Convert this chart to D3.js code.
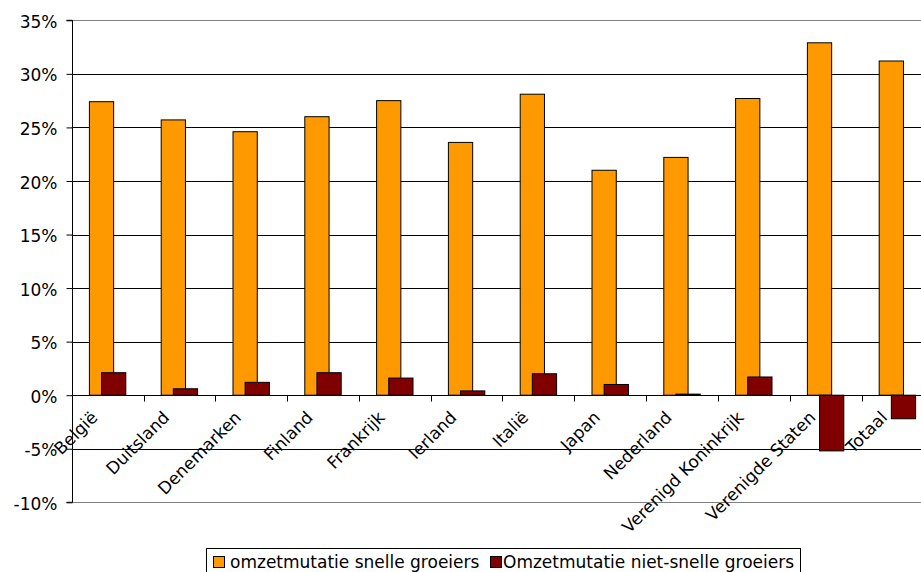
<!DOCTYPE html>
<html>
<head>
<meta charset="utf-8">
<script src="https://cdn.jsdelivr.net/npm/d3@7"></script>
<style>
  html, body { margin: 0; padding: 0; background: #fff; }
  svg { display: block; font-family: "DejaVu Sans", Verdana, sans-serif; }
</style>
</head>
<body>
<svg id="chart" width="921" height="572"></svg>
<script>
// Omzetmutatie per land: snelle groeiers versus niet-snelle groeiers
const categories = ["België", "Duitsland", "Denemarken", "Finland", "Frankrijk", "Ierland",
  "Italië", "Japan", "Nederland", "Verenigd Koninkrijk", "Verenigde Staten", "Totaal"];
const snelle = [0.274, 0.257, 0.246, 0.260, 0.275, 0.236, 0.281, 0.210, 0.222, 0.277, 0.329, 0.312];
const nietSnelle = [0.021, 0.006, 0.012, 0.021, 0.016, 0.004, 0.020, 0.010, 0.001, 0.017, -0.052, -0.022];
const seriesNames = ["omzetmutatie snelle groeiers", "Omzetmutatie niet-snelle groeiers"];
const seriesColors = ["#FF9900", "#800000"];
const yTicks = [-0.10, -0.05, 0, 0.05, 0.10, 0.15, 0.20, 0.25, 0.30, 0.35];

const FONT = "17px";
const svg = d3.select("#chart");
const plot = { left: 71.7, right: 933.3, top: 20.3, bottom: 502.3 };

const x = d3.scaleBand().domain(categories).range([plot.left, plot.right]).padding(0);
const y = d3.scaleLinear().domain([-0.10, 0.35]).range([plot.bottom, plot.top]);

const bw = x.bandwidth();
const barW = bw * 0.338;            // each bar
const groupW = barW * 1.5;          // bars overlap by half
const off = (bw - groupW) / 2;
const fmt = d => Math.round(d * 100) + "%";

// Gridlines (top and bottom edges of the plot area in grey)
svg.append("g").selectAll("line")
  .data(yTicks)
  .join("line")
  .attr("x1", plot.left).attr("x2", plot.right)
  .attr("y1", d => Math.round(y(d)) + 0.5).attr("y2", d => Math.round(y(d)) + 0.5)
  .attr("stroke", d => (d === 0.35 || d === -0.10) ? "#808080" : "#000")
  .attr("stroke-width", 1);

// Bars: first series, then the second drawn over it
const rows = categories.map((c, i) => ({ c, a: snelle[i], b: nietSnelle[i] }));
const bars = svg.append("g");
bars.selectAll("rect.a")
  .data(rows)
  .join("rect")
  .attr("class", "a")
  .attr("x", d => x(d.c) + off)
  .attr("width", barW)
  .attr("y", d => y(Math.max(0, d.a)))
  .attr("height", d => Math.abs(y(d.a) - y(0)))
  .attr("fill", seriesColors[0])
  .attr("stroke", "#000").attr("stroke-width", 1);
bars.selectAll("rect.b")
  .data(rows)
  .join("rect")
  .attr("class", "b")
  .attr("x", d => x(d.c) + off + barW / 2)
  .attr("width", barW)
  .attr("y", d => y(Math.max(0, d.b)))
  .attr("height", d => Math.abs(y(d.b) - y(0)))
  .attr("fill", seriesColors[1])
  .attr("stroke", "#000").attr("stroke-width", 1);

// Y axis
const yAxis = d3.axisLeft(y).tickValues(yTicks).tickFormat(fmt).tickSize(6).tickPadding(9);
const gy = svg.append("g").attr("transform", `translate(${Math.round(plot.left) + 0.5},0)`).call(yAxis);
gy.select(".domain").attr("stroke", "#000").attr("d", `M-6,${y(0.35)}H0V${y(-0.10)}H-6`);
gy.selectAll(".tick line").attr("stroke", "#000");
gy.selectAll(".tick text").attr("fill", "#000").attr("dy", "0.42em").style("font-size", FONT)
  .style("font-family", "'DejaVu Sans', Verdana, sans-serif");

// X axis at zero with ticks on category boundaries
const y0 = Math.round(y(0)) + 0.5;
const gx = svg.append("g");
gx.append("line").attr("x1", plot.left).attr("x2", plot.right)
  .attr("y1", y0).attr("y2", y0).attr("stroke", "#000");
gx.selectAll("line.tk")
  .data(categories.slice(1))
  .join("line")
  .attr("class", "tk")
  .attr("x1", d => Math.round(x(d)) + 0.5).attr("x2", d => Math.round(x(d)) + 0.5)
  .attr("y1", y0).attr("y2", y0 + 6)
  .attr("stroke", "#000");
gx.selectAll("text")
  .data(categories)
  .join("text")
  .attr("transform", d => `translate(${x(d) + bw / 2 - 9},${y0 + 23}) rotate(-45)`)
  .attr("text-anchor", "end")
  .style("font-size", FONT)
  .attr("fill", "#000")
  .text(d => d);

// Legend
const lg = svg.append("g");
lg.append("rect").attr("x", 206.5).attr("y", 548.5).attr("width", 594).attr("height", 26)
  .attr("fill", "#fff").attr("stroke", "#000");
const legendX = [213.5, 490.5];
const legendTextX = [230, 503];
seriesNames.forEach((name, i) => {
  lg.append("rect").attr("x", legendX[i]).attr("y", 556.5).attr("width", 11).attr("height", 11)
    .attr("fill", seriesColors[i]).attr("stroke", "#000");
  lg.append("text").attr("x", legendTextX[i]).attr("y", 568)
    .style("font-size", FONT).attr("fill", "#000").text(name);
});
</script>
</body>
</html>
